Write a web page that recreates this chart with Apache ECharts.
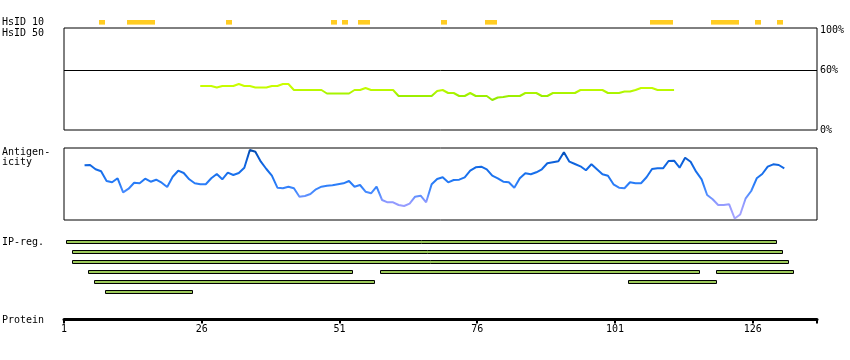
<!DOCTYPE html>
<html><head><meta charset="utf-8">
<script src="https://cdn.jsdelivr.net/npm/echarts@6/dist/echarts.min.js"></script>
<style>html,body{margin:0;padding:0;background:#fff}#c{width:850px;height:360px}</style>
</head><body><div id="c"></div>
<script>
// ---- data ----
const tickLabels = [1, 26, 51, 76, 101, 126];
const axisEnd = 136.67;              // axis extent in residue-offset units (residue 1 = 0)
const hsid10Ranges = [[8,8],[13,17],[31,31],[50,50],[52,52],[55,56],[70,70],[78,79],[108,111],[119,123],[127,127],[131,131]];
const hsid50Start = 26;
const hsid50Values = [
  44,44,44,42.5,44,44,44,46,44,44,
  42.5,42.5,42.5,44,44,46,46,40,40,40,
  40,40,40,36.5,36.5,36.5,36.5,36.5,40,40,
  42,40,40,40,40,40,34,34,34,34,
  34,34,34,39,40,37,37,34,34,37,
  34,34,34,30,32.5,33,34,34,34,37,
  37,37,34,34,37,37,37,37,37,40,
  40,40,40,40,37,37,37,38.5,38.5,40,
  42,42,42,40,40,40,40
];
const hsid50Marker = 60;
const antigenStart = 5;
const antigenValues = [
  54.7,55,50.7,48.7,39,37.7,41.7,27.7,31.3,37.3,
  36.7,41.3,38.3,40.3,37.3,33,43.3,49.3,47,40.7,
  36.7,35.7,35.7,41.7,46,40.7,47.3,45,47,52.3,
  70,68.3,58.3,51,44.3,32.3,31.7,33.3,31.7,23.3,
  24,26,30.7,33.3,34.3,34.7,35.7,36.7,39,33.3,
  35,28.3,26.7,33.3,20,17.7,17.7,15,14,16.3,
  23.3,24.3,17.7,35.7,41,42.7,37.7,40,40.3,42.7,
  49.3,52.7,53.3,50.7,44.3,41.7,38.3,37.7,32.3,41.7,
  46.7,45.7,47.7,50.7,56.7,57.7,58.7,67.7,58.3,56,
  53.7,49.7,55.7,50.7,45.7,44.3,35.7,32.3,31.7,37.7,
  36.7,36.7,42.7,51,51.7,51.7,59,59.3,52.3,62.3,
  58.3,48.3,40.7,25,20.7,15,15,15.7,1.5,5.5,
  21.7,29,41.7,46,53.3,55.7,55,51.7
];
const ipRow1 = [[2,130]];
const ipRow2 = [[3,131]];
const ipRow3 = [[3,132]];
const ipRow4 = [[6,53],[59,116],[120,133]];
const ipRow5 = [[7,57],[104,119]];
const ipRow6 = [[9,24]];
const ipRows = [ipRow1, ipRow2, ipRow3, ipRow4, ipRow5, ipRow6];
const rowLabels = ['HsID 10','HsID 50','Antigen-','icity','IP-reg.','Protein'];

// ---- build ----
const LINE_OFF = 1.27, BAR_START_OFF = 1.6, BAR_END_OFF = 0.5;
const FONT = '"DejaVu Sans Mono", monospace';
const hsid50Data = hsid50Values.map((v,i)=>[hsid50Start + i - LINE_OFF, v]);
const antigenData = antigenValues.map((v,i)=>[antigenStart + i - LINE_OFF, v]);
const hsid10Data = hsid10Ranges.map(r=>[r[0]-BAR_START_OFF, r[1]-BAR_END_OFF, 0]);
const ipData = [];
ipRows.forEach((row, ri)=>row.forEach(r=>ipData.push([r[0]-BAR_START_OFF, r[1]-BAR_END_OFF, ri])));

const L = 64, R = 33;
function xa(gi, show){
  return {type:'value', gridIndex:gi, min:0, max:axisEnd, interval:25, show:show,
    splitLine:{show:false}};
}
const chart = echarts.init(document.getElementById('c'), null, {renderer:'canvas'});
chart.setOption({
  animation:false,
  backgroundColor:'#fff',
  grid:[
    {left:L, right:R, top:20, height:5},
    {left:L, right:R, top:28, height:102, show:true, borderColor:'#000', borderWidth:1},
    {left:L, right:R, top:148, height:72, show:true, borderColor:'#000', borderWidth:1},
    {left:L, right:R, top:236, height:60},
    {left:L, right:R, top:300, height:19.5}
  ],
  xAxis:[
    xa(0,false), xa(1,false), xa(2,false), xa(3,false),
    Object.assign(xa(4,true), {
      position:'bottom',
      axisLine:{show:true, lineStyle:{color:'#000', width:3}},
      axisTick:{show:true, length:4, lineStyle:{color:'#000', width:2}},
      axisLabel:{margin:5, color:'#000', fontFamily:FONT, fontSize:10,
        formatter:v=>{const r=Math.round(v); return (Math.abs(v-r)<1e-6 && r%25===0 && tickLabels.indexOf(r+1)>=0)?String(r+1):'';}}
    })
  ],
  yAxis:[
    {type:'value', gridIndex:0, min:0, max:1, show:false},
    {type:'value', gridIndex:1, min:0, max:102, interval:20, position:'right',
      axisLine:{show:false}, axisTick:{show:false}, splitLine:{show:false},
      axisLabel:{margin:3, color:'#000', fontFamily:FONT, fontSize:10,
        formatter:v=>(v===0||v===60||v===100)?v+'%':''}},
    {type:'value', gridIndex:2, min:0, max:72, show:false},
    {type:'value', gridIndex:3, min:0, max:6, inverse:true, show:false},
    {type:'value', gridIndex:4, min:0, max:1, show:false}
  ],
  visualMap:[
    {type:'continuous', show:false, seriesIndex:1, dimension:1, min:30, max:46,
      inRange:{color:['#90e800','#a0f200','#c0fa00','#ccff00']}},
    {type:'continuous', show:false, seriesIndex:2, dimension:1, min:0, max:72,
      inRange:{color:['#a6a6ff','#a0a0ff','#8f99ff','#4a8cff','#2a7df8','#1a72ee','#1268e4','#0858cc','#0048a8']}}
  ],
  series:[
    {type:'custom', xAxisIndex:0, yAxisIndex:0, data:hsid10Data, silent:true,
      renderItem:(p,api)=>{
        const a=api.coord([api.value(0),1]), b=api.coord([api.value(1),0]);
        return {type:'rect', shape:{x:Math.round(a[0]), y:20, width:Math.round(b[0])-Math.round(a[0]), height:4.6},
          style:{fill:'#ffcc22'}};
      }},
    {type:'line', xAxisIndex:1, yAxisIndex:1, data:hsid50Data, showSymbol:false, symbol:'none',
      lineStyle:{width:2}, silent:true,
      markLine:{silent:true, symbol:'none', label:{show:false},
        lineStyle:{color:'#000', width:1, type:'solid'},
        data:[{yAxis:hsid50Marker}]}},
    {type:'line', xAxisIndex:2, yAxisIndex:2, data:antigenData, showSymbol:false, symbol:'none',
      lineStyle:{width:2}, silent:true},
    {type:'custom', xAxisIndex:3, yAxisIndex:3, data:ipData, silent:true,
      renderItem:(p,api)=>{
        const a=api.coord([api.value(0), api.value(2)+0.5]), b=api.coord([api.value(1), api.value(2)+0.5]);
        const x0=Math.round(a[0])+0.5, x1=Math.round(b[0])-0.5;
        return {type:'rect', shape:{x:x0, y:Math.round(a[1])-0.5, width:x1-x0, height:3},
          style:{fill:'#9cc95a', stroke:'#000', lineWidth:1}};
      }}
  ],
  graphic:[
    {type:'text', left:2, top:17, style:{text:rowLabels[0], font:'10px '+FONT, fill:'#000'}},
    {type:'text', left:2, top:28, style:{text:rowLabels[1], font:'10px '+FONT, fill:'#000'}},
    {type:'text', left:2, top:147, style:{text:rowLabels[2], font:'10px '+FONT, fill:'#000'}},
    {type:'text', left:2, top:157, style:{text:rowLabels[3], font:'10px '+FONT, fill:'#000'}},
    {type:'text', left:2, top:237, style:{text:rowLabels[4], font:'10px '+FONT, fill:'#000'}},
    {type:'text', left:2, top:315, style:{text:rowLabels[5], font:'10px '+FONT, fill:'#000'}}
  ]
});
</script></body></html>
